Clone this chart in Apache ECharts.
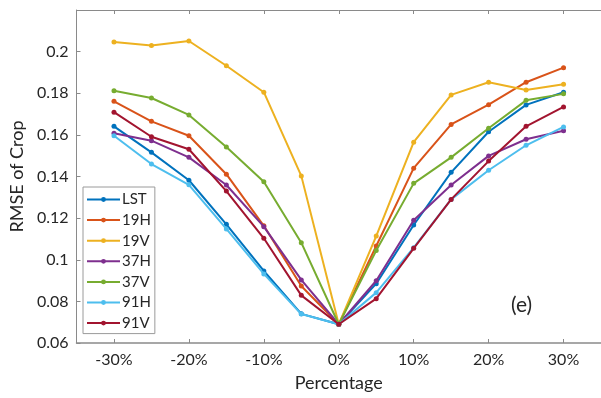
<!DOCTYPE html>
<html>
<head>
<meta charset="utf-8">
<script src="https://cdn.jsdelivr.net/npm/echarts@6/dist/echarts.min.js"></script>
<style>html,body{margin:0;padding:0;background:#fff;}#chart{width:601px;height:398px;}</style>
</head>
<body>
<div id="chart"></div>
<script>
const percentages = [-30, -25, -20, -15, -10, -5, 0, 5, 10, 15, 20, 25, 30];
const seriesNames = ['LST', '19H', '19V', '37H', '37V', '91H', '91V'];
const LST  = [0.1641, 0.1516, 0.1382, 0.1170, 0.0946, 0.0740, 0.0690, 0.0885, 0.1167, 0.1420, 0.1615, 0.1744, 0.1805];
const H19  = [0.1761, 0.1665, 0.1596, 0.1411, 0.1163, 0.0874, 0.0690, 0.1066, 0.1440, 0.1650, 0.1745, 0.1853, 0.1923];
const V19  = [0.2046, 0.2029, 0.2051, 0.1932, 0.1805, 0.1403, 0.0690, 0.1114, 0.1565, 0.1792, 0.1853, 0.1816, 0.1843];
const H37  = [0.1608, 0.1572, 0.1492, 0.1359, 0.1159, 0.0903, 0.0690, 0.0899, 0.1190, 0.1359, 0.1499, 0.1579, 0.1620];
const V37  = [0.1812, 0.1777, 0.1696, 0.1542, 0.1375, 0.1082, 0.0690, 0.1044, 0.1367, 0.1492, 0.1632, 0.1766, 0.1797];
const H91  = [0.1596, 0.1460, 0.1360, 0.1148, 0.0932, 0.0739, 0.0690, 0.0842, 0.1058, 0.1290, 0.1430, 0.1550, 0.1638];
const V91  = [0.1709, 0.1591, 0.1531, 0.1330, 0.1103, 0.0829, 0.0690, 0.0813, 0.1055, 0.1290, 0.1474, 0.1641, 0.1734];
const seriesValues = [LST, H19, V19, H37, V37, H91, V91];
const colors = ['#0072BD', '#D95319', '#EDB120', '#7E2F8E', '#77AC30', '#4DBEEE', '#A2142F'];
const xTicks = [-30, -20, -10, 0, 10, 20, 30];
const yTicks = [0.06, 0.08, 0.1, 0.12, 0.14, 0.16, 0.18, 0.2];

const font = 'Lato, "Open Sans", sans-serif';
const axisGray = '#8a8a8a';
const textColor = '#262626';

const chart = echarts.init(document.getElementById('chart'), null, {renderer: 'canvas'});
const series = seriesNames.map((name, i) => ({
  name: name,
  type: 'line',
  data: percentages.map((p, j) => [p, seriesValues[i][j]]),
  symbol: 'circle',
  symbolSize: 5,
  lineStyle: {width: 2, color: colors[i]},
  itemStyle: {color: colors[i]},
  emphasis: {disabled: true},
  animation: false,
  z: 2 + i
}));

chart.setOption({
  animation: false,
  backgroundColor: '#ffffff',
  grid: {left: 74, top: 10, width: 532, height: 333},
  legend: {
    orient: 'vertical',
    left: 83, top: 187,
    data: seriesNames,
    itemWidth: 33, itemHeight: 6, itemGap: 5.6,
    padding: [5, 4, 3, 3],
    backgroundColor: '#ffffff',
    borderColor: '#9a9a9a', borderWidth: 1,
    textStyle: {fontFamily: font, fontSize: 15, lineHeight: 14, color: textColor, padding: [0, 0, 0, -3]},
    selectedMode: false
  },
  xAxis: [{
    type: 'value', min: -35, max: 35, position: 'bottom',
    name: 'Percentage', nameLocation: 'middle', nameGap: 31,
    nameTextStyle: {fontFamily: font, fontSize: 18, color: textColor},
    axisLine: {show: true, onZero: false, lineStyle: {color: axisGray, width: 1.5}},
    axisTick: {show: true, inside: true, length: 4, customValues: xTicks, lineStyle: {color: axisGray}},
    axisLabel: {customValues: xTicks, formatter: v => v + '%', fontFamily: font, fontSize: 16, color: textColor, margin: 9},
    splitLine: {show: false}
  }, {
    type: 'value', min: -35, max: 35, position: 'top',
    axisLine: {show: true, onZero: false, lineStyle: {color: axisGray, width: 1}},
    axisTick: {show: true, inside: true, length: 4, customValues: xTicks, lineStyle: {color: axisGray}},
    axisLabel: {show: false},
    splitLine: {show: false}
  }],
  yAxis: [{
    type: 'value', min: 0.06, max: 0.22, interval: 0.02,
    name: 'RMSE of Crop', nameLocation: 'middle', nameGap: 46,
    nameTextStyle: {fontFamily: font, fontSize: 18, color: textColor},
    axisLine: {show: true, onZero: false, lineStyle: {color: axisGray, width: 1}},
    axisTick: {show: true, inside: true, length: 4, lineStyle: {color: axisGray}},
    axisLabel: {
      fontFamily: font, fontSize: 16, color: textColor, margin: 8,
      formatter: v => {
        const r = Math.round(v * 100) / 100;
        return yTicks.some(t => Math.abs(t - r) < 1e-9) ? String(r) : '';
      }
    },
    splitLine: {show: false}
  }],
  graphic: [{
    type: 'text', left: 511, top: 295,
    style: {text: '(e)', fontFamily: font, fontSize: 21, fill: textColor}
  }],
  series: series
});
</script>
</body>
</html>
